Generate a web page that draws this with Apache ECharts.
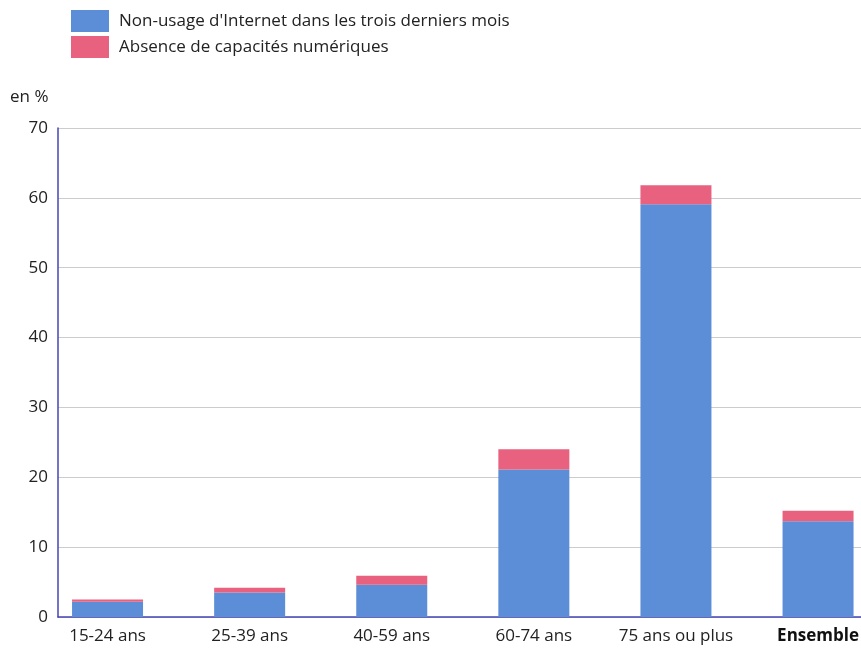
<!DOCTYPE html>
<html><head><meta charset="utf-8">
<script src="https://cdn.jsdelivr.net/npm/echarts@6/dist/echarts.min.js"></script>
<style>html,body{margin:0;padding:0;background:#fff}#c{width:861px;height:649px}</style>
</head><body><div id="c"></div>
<script>
var categories = ['15-24 ans', '25-39 ans', '40-59 ans', '60-74 ans', '75 ans ou plus', 'Ensemble'];
var nonUsage = [2.2, 3.5, 4.6, 21.1, 59.1, 13.7];
var absence = [0.3, 0.7, 1.3, 2.9, 2.7, 1.5];
var seriesNames = ["Non-usage d'Internet dans les trois derniers mois", 'Absence de capacités numériques'];
var yTicks = [0, 10, 20, 30, 40, 50, 60, 70];

var FONT = '"Open Sans", "Noto Sans", sans-serif';
var FS = 17;
var chart = echarts.init(document.getElementById('c'), null, {renderer: 'canvas'});
chart.setOption({
  animation: false,
  textStyle: {fontFamily: FONT},
  title: {text: 'en %', left: 5, top: 84, textStyle: {fontFamily: FONT, fontSize: FS, fontWeight: 'normal', color: '#222'}},
  legend: {
    orient: 'vertical', left: 66, top: 5, itemWidth: 38, itemHeight: 22, itemGap: 4,
    icon: 'rect',
    textStyle: {fontFamily: FONT, fontSize: FS, color: '#222', padding: [2, 0, 0, 5]},
    data: seriesNames
  },
  grid: [
    {left: 58, right: 0, top: 128, bottom: 32, containLabel: false, outerBoundsMode: 'none'},
    {left: 36.5, width: 852.6, top: 128, bottom: 32, containLabel: false, outerBoundsMode: 'none'}
  ],
  xAxis: [
    {gridIndex: 0, type: 'category', data: categories, axisLine: {lineStyle: {color: '#4444b8', width: 1.5}}, axisTick: {show: false}, axisLabel: {show: false}},
    {gridIndex: 1, type: 'category', data: categories, axisLine: {show: false}, axisTick: {show: false},
     axisLabel: {margin: 11, fontFamily: FONT, fontSize: FS, color: '#222', interval: 0, hideOverlap: false,
       formatter: function (v) { return v === 'Ensemble' ? '{b|' + v + '}' : v; },
       rich: {b: {fontWeight: 'bold', fontFamily: FONT, fontSize: FS, color: '#111'}}}}
  ],
  yAxis: [
    {gridIndex: 0, type: 'value', min: yTicks[0], max: yTicks[yTicks.length - 1], interval: 10,
     axisLine: {show: true, lineStyle: {color: '#4444b8', width: 1.5}}, axisTick: {show: false},
     axisLabel: {margin: 10, fontFamily: FONT, fontSize: FS, color: '#222'},
     splitLine: {lineStyle: {color: '#cccccc', width: 1.2}}},
    {gridIndex: 1, type: 'value', min: yTicks[0], max: yTicks[yTicks.length - 1], interval: 10,
     show: false, splitLine: {show: false}}
  ],
  series: [
    {name: seriesNames[0], type: 'bar', stack: 's', xAxisIndex: 1, yAxisIndex: 1, data: nonUsage, barWidth: 71,
     itemStyle: {color: '#5b8ed6'}},
    {name: seriesNames[1], type: 'bar', stack: 's', xAxisIndex: 1, yAxisIndex: 1, data: absence, barWidth: 71,
     itemStyle: {color: '#e8617e'}}
  ]
});
</script></body></html>
